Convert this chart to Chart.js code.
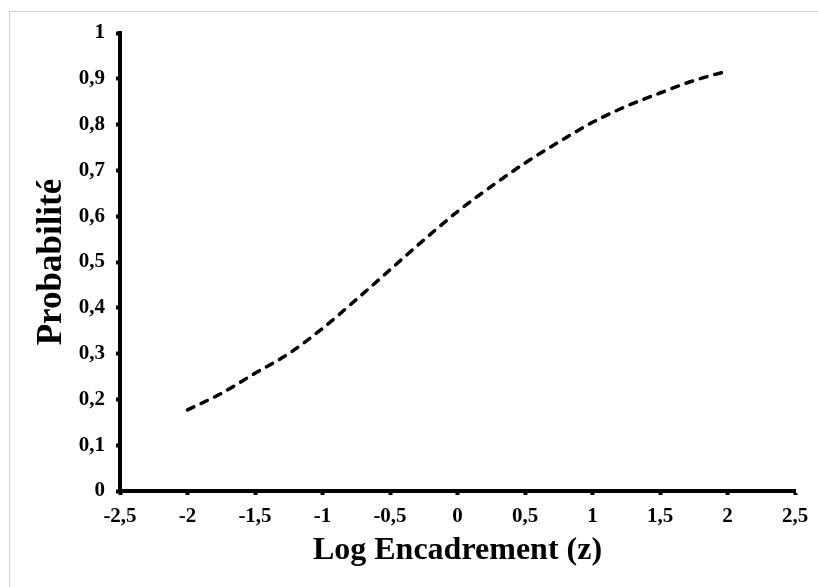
<!DOCTYPE html>
<html>
<head>
<meta charset="utf-8">
<script src="https://cdn.jsdelivr.net/npm/chart.js@4"></script>
<style>
  html, body { margin: 0; padding: 0; background: #fff; overflow: hidden; width: 818px; height: 587px; }
  #frame { position: absolute; left: 9px; top: 11px; width: 1000px; height: 1000px; border-top: 1px solid #d0d0d0; border-left: 1px solid #d0d0d0; }
  #wrap { position: absolute; left: 0; top: 0; width: 818px; height: 587px; }
</style>
</head>
<body>
<div id="frame"></div>
<div id="wrap"><canvas id="c" width="818" height="587"></canvas></div>
<script>
const zValues = [-2, -1.75, -1.5, -1.25, -1, -0.75, -0.5, -0.25, 0, 0.25, 0.5, 0.75, 1, 1.25, 1.5, 1.75, 2];
const probValues = [0.177, 0.213, 0.257, 0.300, 0.355, 0.418, 0.483, 0.548, 0.610, 0.665, 0.716, 0.762, 0.805, 0.840, 0.869, 0.896, 0.917];
const xTitle = 'Log Encadrement (z)';
const yTitle = 'Probabilité';

const fmt = v => String(Math.round(v * 10) / 10).replace('.', ',');
const FONT = "'Liberation Serif', 'Times New Roman', serif";

new Chart(document.getElementById('c'), {
  type: 'line',
  data: {
    datasets: [{
      data: zValues.map((z, i) => ({ x: z, y: probValues[i] })),
      borderColor: '#000',
      borderWidth: 3.5,
      borderDash: [7, 8],
      borderCapStyle: 'round',
      pointRadius: 0,
      cubicInterpolationMode: 'monotone',
      fill: false
    }]
  },
  options: {
    responsive: false,
    animation: false,
    layout: { padding: { left: 0, top: 33, right: 23, bottom: 0 } },
    plugins: { legend: { display: false }, tooltip: { enabled: false } },
    scales: {
      x: {
        type: 'linear',
        min: -2.5, max: 2.5,
        afterFit: s => { s.height = 96; },
        border: { color: '#000', width: 4 },
        grid: { drawOnChartArea: false, color: '#000', tickLength: 4, tickWidth: 4 },
        ticks: { stepSize: 0.5, color: '#000', padding: 9, maxRotation: 0, autoSkip: false,
                 font: { family: FONT, size: 21, weight: 'bold' }, callback: v => fmt(v) },
        title: { display: true, text: xTitle, color: '#000', padding: { top: 0, bottom: 17 },
                 font: { family: FONT, size: 32, weight: 'bold' } }
      },
      y: {
        min: 0, max: 1,
        afterFit: s => { s.width = 120; },
        border: { color: '#000', width: 4 },
        grid: { drawOnChartArea: false, color: '#000', tickLength: 4, tickWidth: 4 },
        ticks: { stepSize: 0.1, color: '#000', padding: 11, autoSkip: false,
                 font: { family: FONT, size: 21, weight: 'bold' }, callback: v => fmt(v) },
        title: { display: true, text: yTitle, color: '#000', padding: { top: 31, bottom: 0 },
                 font: { family: FONT, size: 35, weight: 'bold' } }
      }
    }
  }
});
</script>
</body>
</html>
